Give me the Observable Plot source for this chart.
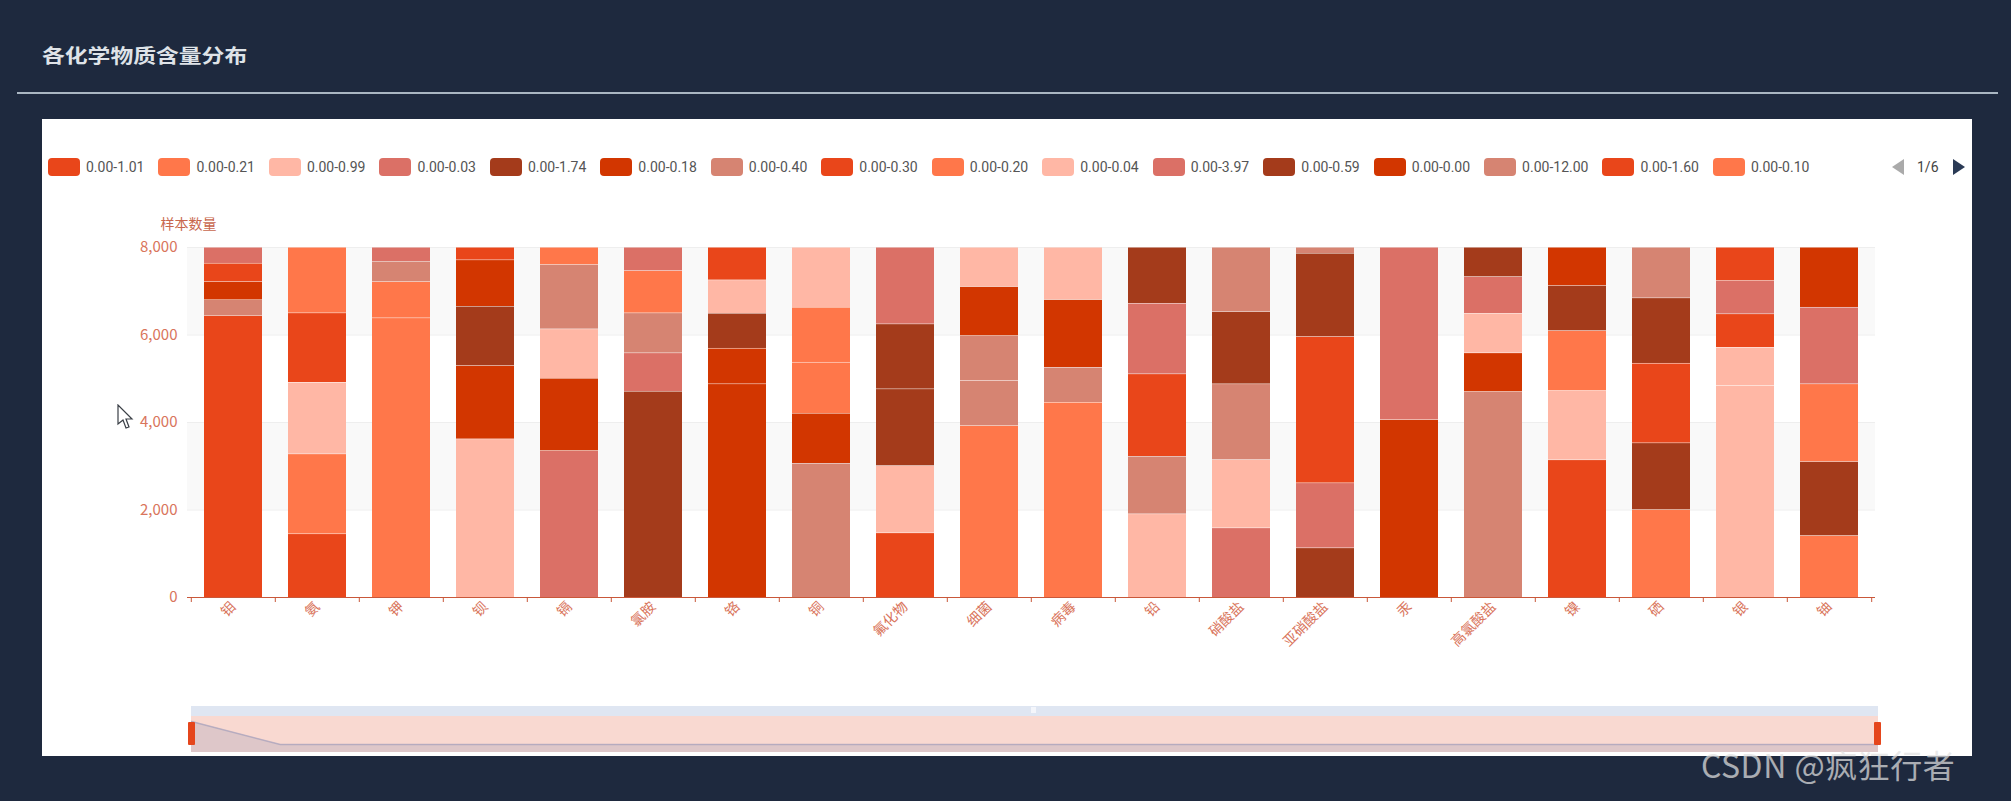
<!DOCTYPE html>
<html lang="zh-CN">
<head>
<meta charset="UTF-8">
<title>各化学物质含量分布</title>
<script src="https://cdn.jsdelivr.net/npm/d3@7"></script>
<script src="https://cdn.jsdelivr.net/npm/@observablehq/plot@0.6"></script>
<style>
  html, body { margin: 0; padding: 0; background: #1e293e; }
  #page { position: relative; width: 2011px; height: 801px; overflow: hidden; background: #1e293e;
    font-family: "Noto Sans CJK SC", "Noto Sans", sans-serif; }
  #title { position: absolute; left: 42px; top: 41px; margin: 0; font-size: 19px; line-height: 28px; font-weight: 700;
    color: #dfe3e8; transform: scaleX(1.2); transform-origin: left center; }
  #rule { position: absolute; left: 17px; top: 92px; width: 1981px; height: 2px; background: #aab6c2; }
  #panel { position: absolute; left: 42px; top: 119px; width: 1930px; height: 637px; background: #fff; }
  #chart { position: absolute; left: 42px; top: 119px; }
  #legend { position: absolute; left: 48px; top: 157px; width: 1825px; height: 20px; overflow: hidden;
    display: flex; align-items: center; white-space: nowrap; font: 14px Roboto, sans-serif; color: #555; }
  #legend .item { flex: none; display: flex; align-items: center; margin-right: 14px; }
  #legend i { display: block; width: 32px; height: 18px; border-radius: 4px; margin-right: 6px; }
  #pager { position: absolute; left: 1892px; top: 157px; height: 20px; width: 76px; font: 14px Roboto, sans-serif; color: #444; }
  #pager span { position: absolute; left: 25px; top: 0; line-height: 20px; }
  #pager b { position: absolute; top: 2px; width: 0; height: 0; border-top: 8px solid transparent; border-bottom: 8px solid transparent; }
  #zoomTop { position: absolute; left: 191px; top: 706px; width: 1687px; height: 10px; background: #dfe6f2; }
  #zoomBody { position: absolute; left: 191px; top: 716px; width: 1687px; height: 36px; background: #f9d9d1; }
  #zoomGrip { position: absolute; left: 1031px; top: 707px; width: 5px; height: 6px; background: #f4f6fb; }
  #overview { position: absolute; left: 191px; top: 716px; }
  .handle { position: absolute; top: 722px; width: 7px; height: 23px; background: #e5461c; border-radius: 1px; }
  #cursor { position: absolute; left: 117px; top: 404px; }
  #mark { position: absolute; left: 1701px; top: 742px; font-size: 32px; line-height: 44px; color: rgba(225,225,225,.72); letter-spacing: .5px; }
</style>
</head>
<body>
<div id="page">
  <h1 id="title">各化学物质含量分布</h1>
  <div id="rule"></div>
  <div id="panel"></div>
  <div id="chart"></div>
  <div id="legend"></div>
  <div id="pager"><b style="left:0;border-right:12px solid #aaa"></b><span>1/6</span><b style="left:61px;border-left:12px solid #2a3a55"></b></div>
  <div id="zoomTop"></div>
  <div id="zoomBody"></div>
  <div id="overview"></div>
  <div id="zoomGrip"></div>
  <div class="handle" style="left:188px"></div>
  <div class="handle" style="left:1874px"></div>
  <svg id="cursor" width="18" height="26" viewBox="0 0 18 26"><path d="M1 1 L1 20 L6 16 L9 24 L12 23 L9 15 L15 15 Z" fill="#fff" stroke="#3a3f46" stroke-width="1.2"/></svg>
  <div id="mark">CSDN @疯狂行者</div>
</div>
<script>
const categories = ['钼', '氨', '钾', '钡', '镉', '氯胺', '铬', '铜', '氟化物', '细菌', '病毒', '铅', '硝酸盐', '亚硝酸盐', '汞', '高氯酸盐', '镍', '硒', '银', '铀'];

// each bar, bottom segment first
const segmentValues = [
  [6440, 360, 415, 420, 365],
  [1450, 1827, 1637, 1586, 1500],
  [6386, 830, 464, 320],
  [3620, 1676, 1355, 1061, 288],
  [3353, 1653, 1128, 1471, 395],
  [4709, 877, 914, 967, 533],
  [4878, 814, 799, 763, 746],
  [3063, 1143, 1166, 1257, 1371],
  [1472, 1538, 1753, 1485, 1752],
  [3925, 1028, 1028, 1121, 898],
  [4457, 800, 1548, 1195],
  [1906, 1317, 1883, 1614, 1280],
  [1586, 1561, 1731, 1652, 1470],
  [1129, 1486, 3344, 1904, 137],
  [4062, 3938],
  [4702, 884, 905, 839, 670],
  [3141, 1584, 1371, 1029, 875],
  [2004, 1525, 1820, 1494, 1157],
  [4839, 875, 764, 761, 761],
  [1410, 1692, 1776, 1751, 1371]
];

// palette slot of each segment above
const segmentSeries = [
  [0, 6, 5, 0, 3],
  [0, 1, 2, 0, 1],
  [1, 1, 6, 3],
  [2, 5, 4, 5, 0],
  [3, 5, 2, 6, 1],
  [4, 3, 6, 1, 3],
  [5, 5, 4, 2, 0],
  [6, 5, 1, 1, 2],
  [0, 2, 4, 4, 3],
  [1, 6, 6, 5, 2],
  [1, 6, 5, 2],
  [2, 6, 0, 3, 4],
  [3, 2, 6, 4, 6],
  [4, 3, 0, 4, 6],
  [5, 3],
  [6, 5, 2, 3, 4],
  [0, 2, 1, 4, 5],
  [1, 4, 0, 4, 6],
  [2, 2, 0, 3, 0],
  [1, 4, 1, 3, 5]
];

const legendLabels = ['0.00-1.01', '0.00-0.21', '0.00-0.99', '0.00-0.03', '0.00-1.74', '0.00-0.18', '0.00-0.40', '0.00-0.30', '0.00-0.20', '0.00-0.04', '0.00-3.97', '0.00-0.59', '0.00-0.00', '0.00-12.00', '0.00-1.60', '0.00-0.10'];
const palette = ['#e9461a', '#ff774a', '#ffb7a5', '#db7066', '#a43b1b', '#d23600', '#d68472'];
const yTicks = [0, 2000, 4000, 6000, 8000];
const shadedBands = [[2000, 4000], [6000, 8000]];
const overviewValues = [6440, 0, 0, 0, 0, 0, 0, 0, 0, 0, 0, 0, 0, 0, 0, 0, 0, 0, 0, 0];

const axisColor = '#c9583a';
const labelColor = '#d9755c';

const rows = categories.flatMap((category, i) =>
  segmentValues[i].map((value, seq) => ({category, seq, value, series: segmentSeries[i][seq]}))
);

const marginLeft = 145, marginRight = 97;
const chartWidth = 1930;
const step = (chartWidth - marginLeft - marginRight) / categories.length;

const chart = Plot.plot({
  width: chartWidth,
  height: 560,
  marginLeft,
  marginRight,
  marginTop: 128,
  marginBottom: 82,
  style: {background: 'transparent', fontFamily: '"Noto Sans CJK SC", sans-serif'},
  x: {domain: categories, paddingInner: 0.31, paddingOuter: 0.155, label: null},
  y: {domain: [0, 8000], label: null},
  color: {type: 'ordinal', domain: d3.range(palette.length), range: palette},
  marks: [
    Plot.rect(shadedBands, {y1: d => d[0], y2: d => d[1], fill: '#f9f9f9'}),
    Plot.ruleY(yTicks, {stroke: '#eeeeee'}),
    Plot.barY(rows, {x: 'category', y: 'value', z: 'seq', fill: 'series', insetTop: 0.5}),
    Plot.ruleY([0], {stroke: axisColor, strokeWidth: 1.2}),
    Plot.axisY({ticks: yTicks, tickFormat: d3.format(','), tickSize: 0, tickPadding: 10, fontSize: 15, fill: labelColor, label: null}),
    Plot.axisX({tickRotate: -45, tickSize: 0, tickPadding: 7, fontSize: 14, fill: labelColor, label: null}),
    Plot.axisX({text: null, tickSize: 5, stroke: axisColor, dx: -step / 2, label: null}),
    Plot.axisX(categories.slice(-1), {text: null, tickSize: 5, stroke: axisColor, dx: step / 2, label: null}),
    Plot.text(['样本数量'], {frameAnchor: 'top-left', dx: 1, dy: -28, textAnchor: 'middle', fontSize: 14, fill: '#c8674d', style: 'letter-spacing:1px'})
  ]
});
document.getElementById('chart').append(chart);

const overview = Plot.plot({
  width: 1687,
  height: 36,
  margin: 0,
  style: {background: 'transparent'},
  x: {domain: [0, categories.length - 1], axis: null},
  y: {domain: [0, 6440], range: [28, 5], axis: null},
  marks: [
    Plot.areaY(overviewValues, {x: (d, i) => i, y1: -2240, y2: d => d, fill: '#5b6fa8', fillOpacity: 0.17, clip: true}),
    Plot.lineY(overviewValues, {x: (d, i) => i, y: d => d, stroke: '#8d8fb5', strokeOpacity: 0.5})
  ]
});
document.getElementById('overview').append(overview);

const legend = d3.select('#legend');
legendLabels.forEach((label, i) => {
  const item = legend.append('div').attr('class', 'item');
  item.append('i').style('background', palette[i % palette.length]);
  item.append('span').text(label);
});
</script>
</body>
</html>
